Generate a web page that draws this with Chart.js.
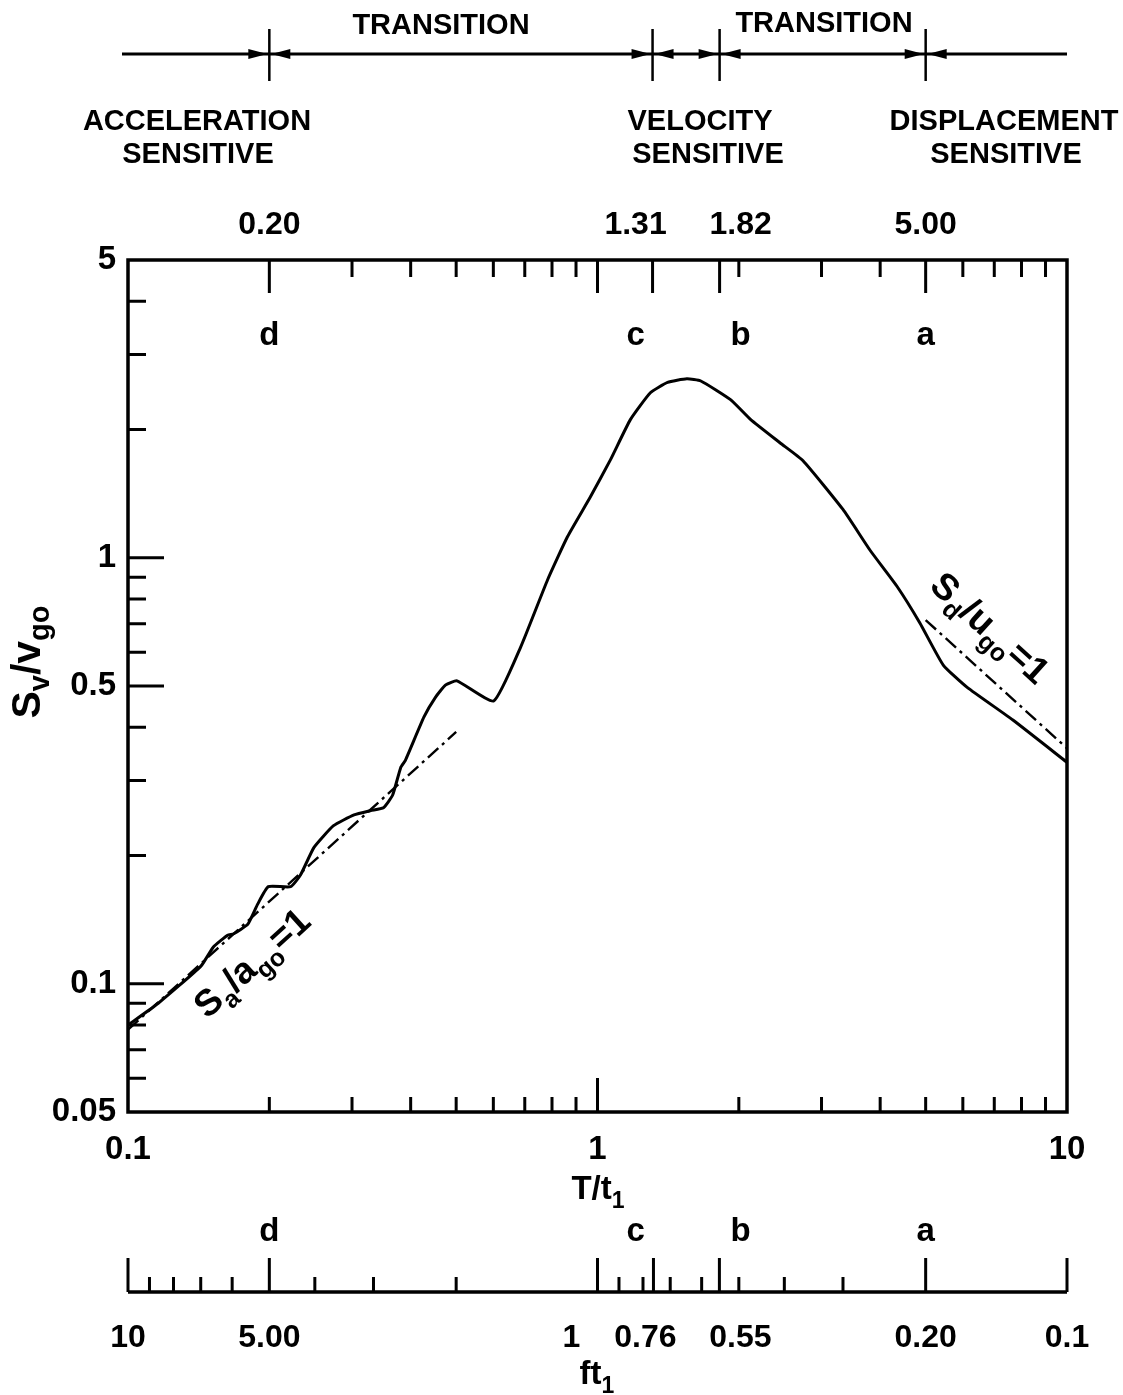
<!DOCTYPE html>
<html><head><meta charset="utf-8">
<script src="https://cdn.jsdelivr.net/npm/chart.js@4/dist/chart.umd.min.js"></script>
<style>html,body{margin:0;padding:0;background:#fff;}canvas{display:block;}</style>
</head><body>
<canvas id="c" width="1123" height="1395"></canvas>
<script>
// ---------- data ----------
const periodRatio = [0.1, 0.116, 0.143, 0.152, 0.163, 0.168, 0.18, 0.189, 0.199, 0.222, 0.233, 0.249, 0.274, 0.303, 0.329, 0.35, 0.366, 0.381, 0.39, 0.427, 0.452, 0.475, 0.502, 0.601, 0.686, 0.783, 0.863, 0.966, 1.066, 1.175, 1.296, 1.41, 1.55, 1.66, 1.92, 2.12, 2.45, 2.74, 3.33, 3.81, 4.35, 4.86, 5.45, 6.12, 7.67, 10];
const svRatio = [0.080, 0.090, 0.110, 0.122, 0.130, 0.131, 0.138, 0.154, 0.169, 0.169, 0.180, 0.209, 0.235, 0.249, 0.255, 0.259, 0.277, 0.322, 0.335, 0.423, 0.471, 0.503, 0.514, 0.461, 0.617, 0.888, 1.12, 1.39, 1.70, 2.11, 2.44, 2.58, 2.63, 2.60, 2.35, 2.11, 1.86, 1.69, 1.30, 1.04, 0.855, 0.703, 0.560, 0.497, 0.416, 0.331];
const accelLineT = [0.1, 0.5];
const accelLineSv = [0.078, 0.39];
const dispLineT = [5.0, 10];
const dispLineSv = [0.714, 0.357];

const yTickValues = [0.05, 0.1, 0.5, 1, 5];
const yTickLabels = ['0.05', '0.1', '0.5', '1', '5'];
const yMinorTicks = [0.06, 0.07, 0.08, 0.09, 0.2, 0.3, 0.4, 0.6, 0.7, 0.8, 0.9, 2, 3, 4];
const yMajorTicks = [0.1, 0.5, 1];
const xTickValues = [0.1, 1, 10];
const xTickLabels = ['0.1', '1', '10'];
const xMinorTicks = [0.2, 0.3, 0.4, 0.5, 0.6, 0.7, 0.8, 0.9, 2, 3, 4, 5, 6, 7, 8, 9];
const topMajorTicks = [0.2, 1, 1.31, 1.82, 5.0];
const bottomMajorTicks = [1];

const regionBounds = [0.2, 1.31, 1.82, 5.0];
const regionBoundLabels = ['0.20', '1.31', '1.82', '5.00'];
const regionLetters = ['d', 'c', 'b', 'a'];
const regionNames = [['ACCELERATION', 'SENSITIVE'], ['VELOCITY', 'SENSITIVE'], ['DISPLACEMENT', 'SENSITIVE']];
const transitionLabel = 'TRANSITION';

const ftTickValues = [10, 9, 8, 7, 6, 5, 4, 3, 2, 1, 0.9, 0.8, 0.76, 0.7, 0.6, 0.55, 0.5, 0.4, 0.3, 0.2, 0.1];
const ftMajorValues = [10, 5, 1, 0.76, 0.55, 0.2, 0.1];
const ftLabels = ['10', '5.00', '1', '0.76', '0.55', '0.20', '0.1'];

// ---------- styling ----------
const FONT = "'Liberation Sans', Arial, Helvetica, sans-serif";
const boundNudge = [0, -17, 21, 0];
const ftNudge = [0, 0, -26, -8, 21, 0, 0];

function txt(ctx, s, cx, cy, size) {
  ctx.font = `bold ${size}px ${FONT}`;
  ctx.textAlign = 'center';
  ctx.textBaseline = 'middle';
  ctx.fillText(s, cx, cy);
}
function rich(ctx, parts, size, subSize, subDrop, baseY) {
  let w = 0; const ws = [];
  parts.forEach(([t, sub]) => { ctx.font = `bold ${sub ? subSize : size}px ${FONT}`; const m = ctx.measureText(t).width; ws.push(m); w += m; });
  let xx = -w / 2;
  ctx.textAlign = 'left'; ctx.textBaseline = 'alphabetic';
  parts.forEach(([t, sub], i) => { ctx.font = `bold ${sub ? subSize : size}px ${FONT}`; ctx.fillText(t, xx, baseY + (sub ? subDrop : 0)); xx += ws[i]; });
}
function arrowHead(ctx, tipX, y, dir) {
  const L = 19, H = 5;
  ctx.beginPath();
  ctx.moveTo(tipX, y);
  ctx.lineTo(tipX - dir * L, y - H);
  ctx.lineTo(tipX - dir * L, y + H);
  ctx.closePath();
  ctx.fill();
}

const decor = {
  id: 'decor',
  beforeDraw(chart) {
    const ctx = chart.ctx;
    ctx.save(); ctx.fillStyle = '#fff'; ctx.fillRect(0, 0, chart.width, chart.height); ctx.restore();
  },
  afterDraw(chart) {
    const { ctx, chartArea: a, scales: { x, y } } = chart;
    const X = v => x.getPixelForValue(v), Y = v => y.getPixelForValue(v);
    ctx.save();
    ctx.strokeStyle = '#000'; ctx.fillStyle = '#000'; ctx.lineCap = 'butt';

    // inward tick marks
    ctx.lineWidth = 3;
    ctx.beginPath();
    yMinorTicks.forEach(v => { const p = Y(v); ctx.moveTo(a.left, p); ctx.lineTo(a.left + 18, p); });
    yMajorTicks.forEach(v => { const p = Y(v); ctx.moveTo(a.left, p); ctx.lineTo(a.left + 36, p); });
    xMinorTicks.forEach(v => { const p = X(v);
      ctx.moveTo(p, a.top); ctx.lineTo(p, a.top + 17);
      ctx.moveTo(p, a.bottom); ctx.lineTo(p, a.bottom - 15); });
    topMajorTicks.forEach(v => { const p = X(v); ctx.moveTo(p, a.top); ctx.lineTo(p, a.top + 33); });
    bottomMajorTicks.forEach(v => { const p = X(v); ctx.moveTo(p, a.bottom); ctx.lineTo(p, a.bottom - 34); });
    ctx.stroke();

    // frame
    ctx.lineWidth = 3.5;
    ctx.strokeRect(a.left, a.top, a.right - a.left, a.bottom - a.top);

    // letters inside plot, boundary values above plot
    regionBounds.forEach((v, i) => {
      const p = X(v) + boundNudge[i];
      txt(ctx, regionLetters[i], p, 336, 33);
      txt(ctx, regionBoundLabels[i], p, 225, 32);
      txt(ctx, regionLetters[i], p, 1232, 33);
    });

    // header arrow line
    const yA = 54;
    ctx.lineWidth = 3;
    ctx.beginPath(); ctx.moveTo(122, yA); ctx.lineTo(a.right, yA); ctx.stroke();
    regionBounds.forEach(v => {
      const p = X(v);
      ctx.lineWidth = 2.5;
      ctx.beginPath(); ctx.moveTo(p, 29); ctx.lineTo(p, 81); ctx.stroke();
      arrowHead(ctx, p - 2, yA, 1);
      arrowHead(ctx, p + 2, yA, -1);
    });
    txt(ctx, transitionLabel, 441, 26, 29);
    txt(ctx, transitionLabel, 824, 24, 29);
    txt(ctx, regionNames[0][0], 197, 122, 29);
    txt(ctx, regionNames[0][1], 198, 155, 29);
    txt(ctx, regionNames[1][0], 700, 122, 29);
    txt(ctx, regionNames[1][1], 708, 155, 29);
    txt(ctx, regionNames[2][0], 1004, 122, 29);
    txt(ctx, regionNames[2][1], 1006, 155, 29);

    // axis titles
    ctx.save(); ctx.translate(598, 1199);
    rich(ctx, [['T/t', 0], ['1', 1]], 33, 23, 9, 0); ctx.restore();
    ctx.save(); ctx.translate(40, 662); ctx.rotate(-Math.PI / 2);
    rich(ctx, [['S', 0], ['v', 1], ['/v', 0], ['go', 1]], 41, 29, 9, 0); ctx.restore();

    // ft1 axis
    const fy = 1292;
    ctx.lineWidth = 3.5;
    ctx.beginPath(); ctx.moveTo(X(1 / 10), fy); ctx.lineTo(X(1 / 0.1), fy); ctx.stroke();
    ctx.lineWidth = 3;
    ctx.beginPath();
    ftTickValues.forEach(v => { const p = X(1 / v); const L = ftMajorValues.includes(v) ? 34 : 15;
      ctx.moveTo(p, fy); ctx.lineTo(p, fy - L); });
    ctx.stroke();
    ftMajorValues.forEach((v, i) => txt(ctx, ftLabels[i], X(1 / v) + ftNudge[i], 1338, 32));
    ctx.save(); ctx.translate(597, 1384);
    rich(ctx, [['ft', 0], ['1', 1]], 33, 23, 9, 0); ctx.restore();

    // sloped line labels
    const angA = Math.atan2(Y(accelLineSv[1]) - Y(accelLineSv[0]), X(accelLineT[1]) - X(accelLineT[0]));
    ctx.save(); ctx.translate(252, 963); ctx.rotate(angA);
    rich(ctx, [['S', 0], ['a', 1], ['/a', 0], ['go', 1], ['=1', 0]], 37, 25, 9, 12); ctx.restore();
    const angD = Math.atan2(Y(dispLineSv[1]) - Y(dispLineSv[0]), X(dispLineT[1]) - X(dispLineT[0]));
    ctx.save(); ctx.translate(990, 628); ctx.rotate(angD);
    rich(ctx, [['S', 0], ['d', 1], ['/u', 0], ['go', 1], ['=1', 0]], 37, 25, 9, 12); ctx.restore();

    ctx.restore();
  }
};

const pts = (xs, ys) => xs.map((t, i) => ({ x: t, y: ys[i] }));

new Chart(document.getElementById('c'), {
  type: 'scatter',
  data: {
    datasets: [
      { label: 'Sv/vgo', data: pts(periodRatio, svRatio), showLine: true, borderColor: '#000', borderWidth: 3, pointRadius: 0, tension: 0.15, fill: false },
      { label: 'Sa/ago=1', data: pts(accelLineT, accelLineSv), showLine: true, borderColor: '#000', borderWidth: 2.4, borderDash: [14, 5, 3, 5], pointRadius: 0, fill: false },
      { label: 'Sd/ugo=1', data: pts(dispLineT, dispLineSv), showLine: true, borderColor: '#000', borderWidth: 2.4, borderDash: [14, 5, 3, 5], pointRadius: 0, fill: false }
    ]
  },
  options: {
    responsive: false, animation: false, devicePixelRatio: 1,
    layout: { padding: { left: 0, right: 56, top: 260, bottom: 223 } },
    plugins: { legend: { display: false }, tooltip: { enabled: false } },
    scales: {
      x: {
        type: 'logarithmic', position: 'bottom', min: 0.1, max: 10,
        grid: { display: false, drawTicks: false }, border: { display: false },
        afterBuildTicks: s => { s.ticks = xTickValues.map(v => ({ value: v })); },
        afterFit: s => { s.height = 60; },
        ticks: { autoSkip: false, maxRotation: 0, padding: 18, color: '#000', font: { family: FONT, size: 33, weight: 'bold' }, callback: (v, i) => xTickLabels[i] }
      },
      y: {
        type: 'logarithmic', position: 'left', min: 0.05, max: 5,
        grid: { display: false, drawTicks: false }, border: { display: false },
        afterBuildTicks: s => { s.ticks = yTickValues.map(v => ({ value: v })); },
        afterFit: s => { s.width = 128; },
        ticks: { autoSkip: false, padding: 12, color: '#000', font: { family: FONT, size: 33, weight: 'bold' }, callback: (v, i) => yTickLabels[i] }
      }
    }
  },
  plugins: [decor]
});
</script>
</body></html>
